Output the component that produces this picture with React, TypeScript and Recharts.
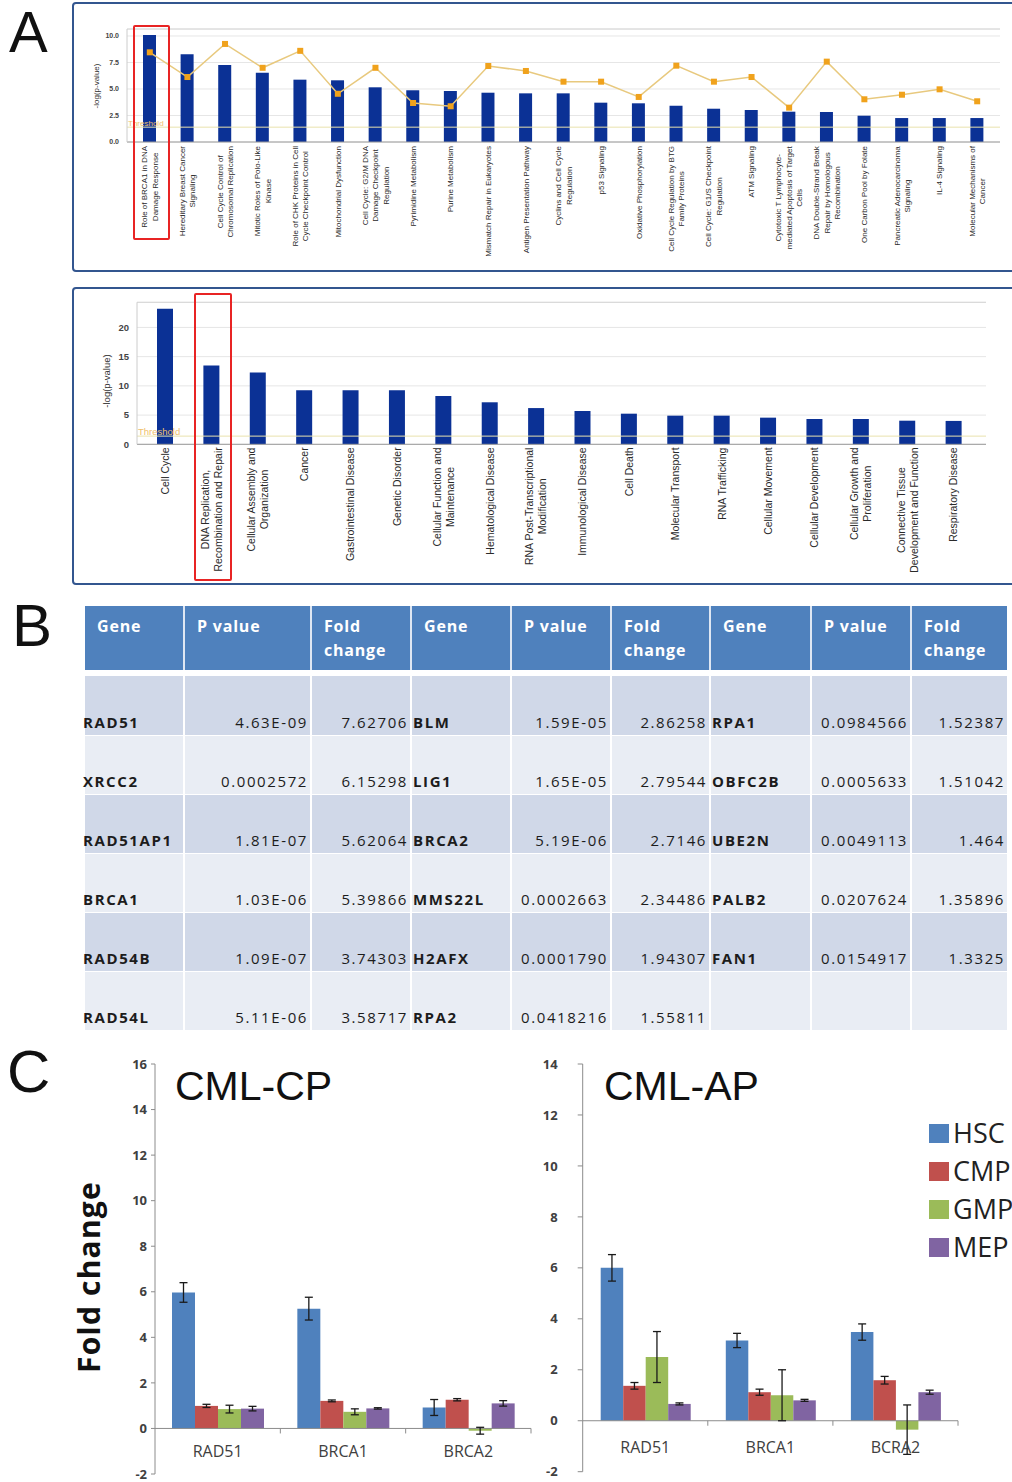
import React from 'react';
import {
  ComposedChart,
  Bar,
  Line,
  XAxis,
  YAxis,
  CartesianGrid,
  ReferenceLine,
  ErrorBar,
  Legend,
} from 'recharts';

const SANS = '"Liberation Sans", Arial, sans-serif';
const OPEN = '"Open Sans", "Liberation Sans", sans-serif';

// ---------------- Panel A (top): canonical pathways ----------------
const pathwayNames = [
  'Role of BRCA1 in DNA\nDamage Response',
  'Hereditary Breast Cancer\nSignaling',
  'Cell Cycle Control of\nChromosomal Replication',
  'Mitotic Roles of Polo-Like\nKinase',
  'Role of CHK Proteins in Cell\nCycle Checkpoint Control',
  'Mitochondrial Dysfunction',
  'Cell Cycle: G2/M DNA\nDamage Checkpoint\nRegulation',
  'Pyrimidine Metabolism',
  'Purine Metabolism',
  'Mismatch Repair in Eukaryotes',
  'Antigen Presentation Pathway',
  'Cyclins and Cell Cycle\nRegulation',
  'p53 Signaling',
  'Oxidative Phosphorylation',
  'Cell Cycle Regulation by BTG\nFamily Proteins',
  'Cell Cycle: G1/S Checkpoint\nRegulation',
  'ATM Signaling',
  'Cytotoxic T Lymphocyte-\nmediated Apoptosis of Target\nCells',
  'DNA Double-Strand Break\nRepair by Homologous\nRecombination',
  'One Carbon Pool by Folate',
  'Pancreatic Adenocarcinoma\nSignaling',
  'IL-4 Signaling',
  'Molecular Mechanisms of\nCancer',
];
const pathwayLogP = [10.1, 8.27, 7.26, 6.54, 5.88, 5.82, 5.16, 4.88, 4.81, 4.65, 4.59, 4.59, 3.71, 3.65, 3.42, 3.14, 3.02, 2.86, 2.83, 2.48, 2.26, 2.26, 2.26];
const pathwayRatio = [8.46, 6.13, 9.25, 7.0, 8.6, 4.55, 7.0, 3.68, 3.37, 7.17, 6.7, 5.69, 5.69, 4.25, 7.2, 5.69, 6.13, 3.24, 7.58, 4.03, 4.46, 4.97, 3.84];
const pathwayTicks = [0, 2.5, 5, 7.5, 10];
const pathwayMax = 10.66;
const pathwayThreshold = 1.4;

// ---------------- Panel A (bottom): functions ----------------
const functionNames = [
  'Cell Cycle',
  'DNA Replication,\nRecombination and Repair',
  'Cellular Assembly and\nOrganization',
  'Cancer',
  'Gastrointestinal Disease',
  'Genetic Disorder',
  'Cellular Function and\nMaintenance',
  'Hematological Disease',
  'RNA Post-Transcriptional\nModification',
  'Immunological Disease',
  'Cell Death',
  'Molecular Transport',
  'RNA Trafficking',
  'Cellular Movement',
  'Cellular Development',
  'Cellular Growth and\nProliferation',
  'Connective Tissue\nDevelopment and Function',
  'Respiratory Disease',
];
const functionLogP = [23.2, 13.5, 12.3, 9.25, 9.25, 9.25, 8.27, 7.19, 6.2, 5.7, 5.24, 4.9, 4.9, 4.56, 4.33, 4.33, 4.04, 4.0];
const functionTicks = [0, 5, 10, 15, 20];
const functionMax = 24.3;
const functionThreshold = 1.4;

// ---------------- Panel B: table ----------------
const tableHeaders = ['Gene', 'P value', 'Fold\nchange', 'Gene', 'P value', 'Fold\nchange', 'Gene', 'P value', 'Fold\nchange'];
const genesCol1 = ['RAD51', 'XRCC2', 'RAD51AP1', 'BRCA1', 'RAD54B', 'RAD54L'];
const pvalCol1 = ['4.63E-09', '0.0002572', '1.81E-07', '1.03E-06', '1.09E-07', '5.11E-06'];
const foldCol1 = ['7.62706', '6.15298', '5.62064', '5.39866', '3.74303', '3.58717'];
const genesCol2 = ['BLM', 'LIG1', 'BRCA2', 'MMS22L', 'H2AFX', 'RPA2'];
const pvalCol2 = ['1.59E-05', '1.65E-05', '5.19E-06', '0.0002663', '0.0001790', '0.0418216'];
const foldCol2 = ['2.86258', '2.79544', '2.7146', '2.34486', '1.94307', '1.55811'];
const genesCol3 = ['RPA1', 'OBFC2B', 'UBE2N', 'PALB2', 'FAN1', ''];
const pvalCol3 = ['0.0984566', '0.0005633', '0.0049113', '0.0207624', '0.0154917', ''];
const foldCol3 = ['1.52387', '1.51042', '1.464', '1.35896', '1.3325', ''];

// ---------------- Panel C: qPCR fold change ----------------
const cellTypes = ['HSC', 'CMP', 'GMP', 'MEP'];
const cellColors = ['#4f81bd', '#c0504d', '#9bbb59', '#8064a2'];

const cpGenes = ['RAD51', 'BRCA1', 'BRCA2'];
const cpHSC = [5.97, 5.26, 0.92];
const cpHSCerr = [0.43, 0.5, 0.35];
const cpCMP = [0.99, 1.21, 1.26];
const cpCMPerr = [0.07, 0.04, 0.05];
const cpGMP = [0.85, 0.73, -0.1];
const cpGMPerr = [0.17, 0.13, 0.15];
const cpMEP = [0.87, 0.88, 1.1];
const cpMEPerr = [0.1, 0.03, 0.12];
const cpTicks = [-2, 0, 2, 4, 6, 8, 10, 12, 14, 16];

const apGenes = ['RAD51', 'BRCA1', 'BCRA2'];
const apHSC = [6.0, 3.15, 3.48];
const apHSCerr = [0.52, 0.28, 0.32];
const apCMP = [1.37, 1.12, 1.59];
const apCMPerr = [0.13, 0.12, 0.15];
const apGMP = [2.5, 1.0, -0.35];
const apGMPerr = [1.0, 1.0, 0.97];
const apMEP = [0.66, 0.8, 1.12];
const apMEPerr = [0.04, 0.04, 0.08];
const apTicks = [-2, 0, 2, 4, 6, 8, 10, 12, 14];

// ---------------- derived tables ----------------
const pathwayData = pathwayNames.map((name, i) => ({ name, logp: pathwayLogP[i], ratio: pathwayRatio[i] }));
const functionData = functionNames.map((name, i) => ({ name, logp: functionLogP[i] }));

const buildFold = (genes: string[], s: number[][], e: number[][]) =>
  genes.map((gene, i) => ({
    gene,
    HSC: s[0][i], CMP: s[1][i], GMP: s[2][i], MEP: s[3][i],
    HSCe: e[0][i], CMPe: e[1][i], GMPe: e[2][i], MEPe: e[3][i],
  }));
const cpData = buildFold(cpGenes, [cpHSC, cpCMP, cpGMP, cpMEP], [cpHSCerr, cpCMPerr, cpGMPerr, cpMEPerr]);
const apData = buildFold(apGenes, [apHSC, apCMP, apGMP, apMEP], [apHSCerr, apCMPerr, apGMPerr, apMEPerr]);

const tableRows = genesCol1.map((_, r) => [
  genesCol1[r], pvalCol1[r], foldCol1[r],
  genesCol2[r], pvalCol2[r], foldCol2[r],
  genesCol3[r], pvalCol3[r], foldCol3[r],
]);
const colWidths = [98, 127, 100, 100, 100, 99, 101, 100, 97];

// ---------------- helpers ----------------
let measureCtx: CanvasRenderingContext2D | null = null;
function measure(text: string, fs: number): number {
  try {
    if (!measureCtx) measureCtx = document.createElement('canvas').getContext('2d');
    if (measureCtx) {
      measureCtx.font = `${fs}px "Liberation Sans", Arial, sans-serif`;
      return measureCtx.measureText(text).width;
    }
  } catch (e) {
    /* ignore */
  }
  return text.length * fs * 0.5;
}

function RotatedTick(props: any) {
  const { x, y, payload, fs, lh, gap } = props;
  const lines = String(payload.value).split('\n');
  const w = Math.max(...lines.map((l) => measure(l, fs)));
  const n = lines.length;
  return (
    <g transform={`translate(${x},${y + gap + w / 2}) rotate(-90)`}>
      <text textAnchor="middle" fontSize={fs} fontFamily={SANS} fill="#2a2a2a">
        {lines.map((l, i) => (
          <tspan key={i} x={0} y={(i - (n - 1) / 2) * lh + fs * 0.35}>
            {l}
          </tspan>
        ))}
      </text>
    </g>
  );
}

function GeneTick(props: any) {
  const { x, payload, labelY, zeroY, half } = props;
  return (
    <g>
      <text x={x} y={labelY} textAnchor="middle" fontSize={16} fontWeight={500} fontFamily={OPEN} fill="#404040">
        {payload.value}
      </text>
      <line x1={x + half} x2={x + half} y1={zeroY} y2={zeroY + 5} stroke="#8c8c8c" />
    </g>
  );
}

const SquareDot = (p: any) => (
  <rect key={`sq${p.index}`} x={p.cx - 3} y={p.cy - 3} width={6} height={6} fill="#f0a21c" />
);

const LegendList = (props: any) => {
  const items = [...(props.payload || [])].sort(
    (a: any, b: any) => cellTypes.indexOf(String(a.value)) - cellTypes.indexOf(String(b.value)),
  );
  return (
    <div>
      {items.map((e: any) => (
        <div key={e.value} style={{ display: 'flex', alignItems: 'center', height: 38, whiteSpace: 'nowrap' }}>
          <span style={{ width: 20, height: 19, background: e.color, marginRight: 4, display: 'inline-block' }} />
          <span style={{ fontFamily: OPEN, fontSize: 27, color: '#222', lineHeight: '38px' }}>{e.value}</span>
        </div>
      ))}
    </div>
  );
};

// layout constants for panel C
const CP_W = 540, CP_H = 442, CP_M = { top: 24, right: 9, bottom: 7, left: 115 }, CP_YW = 40, CP_XH = 1;
const AP_W = 492, AP_H = 442, AP_M = { top: 24, right: 54, bottom: 9.3, left: 12.7 }, AP_YW = 50, AP_XH = 1;
const cpPlotH = CP_H - CP_M.top - CP_M.bottom - CP_XH;
const apPlotH = AP_H - AP_M.top - AP_M.bottom - AP_XH;
const cpZeroY = CP_M.top + (cpPlotH * cpTicks[cpTicks.length - 1]) / (cpTicks[cpTicks.length - 1] - cpTicks[0]);
const apZeroY = AP_M.top + (apPlotH * apTicks[apTicks.length - 1]) / (apTicks[apTicks.length - 1] - apTicks[0]);
const cpHalf = (CP_W - CP_M.left - CP_M.right - CP_YW) / cpGenes.length / 2;
const apHalf = (AP_W - AP_M.left - AP_M.right - AP_YW) / apGenes.length / 2;

export default function App() {
  return (
    <div
      style={{
        position: 'absolute',
        left: 0,
        top: 0,
        width: 1012,
        height: 1482,
        overflow: 'hidden',
        background: '#ffffff',
        fontFamily: SANS,
      }}
    >
      {/* Panel A frames */}
      <div style={{ position: 'absolute', left: 72, top: 2, width: 960, height: 266, border: '2.5px solid #33568f', borderRadius: 4 }} />
      <div style={{ position: 'absolute', left: 72, top: 287, width: 960, height: 294, border: '2.5px solid #33568f', borderRadius: 4 }} />

      {/* Panel A top chart */}
      <div style={{ position: 'absolute', left: 0, top: 0 }}>
        <ComposedChart width={1012} height={272} data={pathwayData} margin={{ top: 29, right: 12, bottom: 5, left: 97 }}>
          <CartesianGrid vertical={false} stroke="#e6e6e6" />
          <XAxis
            dataKey="name"
            interval={0}
            height={125}
            tickSize={0}
            tickMargin={0}
            tickLine={false}
            axisLine={{ stroke: '#9a9a9a' }}
            padding={{ left: 4, right: 4 }}
            tick={(p: any) => <RotatedTick {...p} fs={8} lh={10.5} gap={4} />}
          />
          <YAxis
            type="number"
            domain={[0, pathwayMax]}
            ticks={pathwayTicks}
            interval={0}
            width={30}
            tickSize={0}
            tickMargin={8}
            tickLine={false}
            axisLine={{ stroke: '#cccccc' }}
            tickFormatter={(v: any) => Number(v).toFixed(1)}
            tick={{ fontSize: 7, fill: '#444', fontWeight: 'bold', fontFamily: SANS }}
          />
          <ReferenceLine y={pathwayMax} stroke="#d6d6d6" />
          <ReferenceLine
            y={pathwayThreshold}
            stroke="#e9e2ad"
            label={{ value: 'Threshold', position: 'insideBottomLeft', fill: '#efc16e', fontSize: 8, offset: 1 }}
          />
          <Bar dataKey="logp" fill="#0b3195" barSize={13} isAnimationActive={false} />
          <Line dataKey="ratio" stroke="#e8c97e" strokeWidth={1.5} dot={SquareDot} isAnimationActive={false} />
        </ComposedChart>
      </div>

      {/* Panel A bottom chart */}
      <div style={{ position: 'absolute', left: 0, top: 288 }}>
        <ComposedChart width={1012} height={297} data={functionData} margin={{ top: 14.3, right: 26, bottom: 5, left: 107 }}>
          <CartesianGrid vertical={false} stroke="#e6e6e6" />
          <XAxis
            dataKey="name"
            interval={0}
            height={135.7}
            tickSize={0}
            tickMargin={0}
            tickLine={false}
            axisLine={{ stroke: '#9a9a9a' }}
            padding={{ left: 5, right: 9 }}
            tick={(p: any) => <RotatedTick {...p} fs={10.5} lh={13} gap={3} />}
          />
          <YAxis
            type="number"
            domain={[0, functionMax]}
            ticks={functionTicks}
            interval={0}
            width={30}
            tickSize={0}
            tickMargin={8}
            tickLine={false}
            axisLine={{ stroke: '#cccccc' }}
            tick={{ fontSize: 9.5, fill: '#444', fontWeight: 'bold', fontFamily: SANS }}
          />
          <ReferenceLine y={functionMax} stroke="#d6d6d6" />
          <ReferenceLine
            y={functionThreshold}
            stroke="#e9e2ad"
            label={{ value: 'Threshold', position: 'insideBottomLeft', fill: '#efc16e', fontSize: 9.5, offset: 1 }}
          />
          <Bar dataKey="logp" fill="#0b3195" barSize={16} isAnimationActive={false} />
        </ComposedChart>
      </div>

      {/* Panel B table */}
      <div style={{ position: 'absolute', left: 85, top: 606, width: 922, fontFamily: OPEN }}>
        <div style={{ display: 'flex', height: 64, background: '#4f81bd' }}>
          {tableHeaders.map((h, j) => (
            <div
              key={j}
              style={{
                width: colWidths[j],
                boxSizing: 'border-box',
                borderLeft: j === 0 ? 'none' : '2px solid #dfe7f3',
                paddingLeft: 12,
                paddingTop: 8,
                color: '#ffffff',
                fontWeight: 700,
                fontSize: 16,
                letterSpacing: 0.8,
                lineHeight: '24px',
                whiteSpace: 'pre-line',
              }}
            >
              {h}
            </div>
          ))}
        </div>
        <div style={{ height: 6, background: '#ffffff' }} />
        {tableRows.map((row, r) => (
          <div
            key={r}
            style={{
              display: 'flex',
              height: 59,
              boxSizing: 'border-box',
              borderTop: r === 0 ? 'none' : '1px solid #ffffff',
              background: r % 2 === 0 ? '#d0d8e8' : '#e9edf4',
            }}
          >
            {row.map((v, j) => (
              <div
                key={j}
                style={{
                  width: colWidths[j],
                  boxSizing: 'border-box',
                  borderLeft: j === 0 ? 'none' : '2px solid #ffffff',
                  display: 'flex',
                  alignItems: 'flex-end',
                  justifyContent: j % 3 === 0 ? 'flex-start' : 'flex-end',
                  paddingLeft: j === 0 ? 0 : 1,
                  paddingRight: j % 3 === 0 ? 0 : 2,
                  paddingBottom: 3,
                  fontSize: 15,
                  lineHeight: '20px',
                  letterSpacing: 1.6,
                  fontWeight: j % 3 === 0 ? 700 : 400,
                  color: '#1c1c1c',
                  whiteSpace: 'nowrap',
                  overflow: 'visible',
                }}
              >
                <span style={{ marginLeft: j === 0 ? -2 : 0 }}>{v}</span>
              </div>
            ))}
          </div>
        ))}
      </div>

      {/* Panel C left: CML-CP */}
      <div style={{ position: 'absolute', left: 0, top: 1040 }}>
        <ComposedChart width={CP_W} height={CP_H} data={cpData} margin={CP_M} barGap={0}>
          <XAxis
            dataKey="gene"
            height={CP_XH}
            interval={0}
            axisLine={false}
            tickLine={false}
            tickSize={0}
            tickMargin={0}
            tick={(p: any) => <GeneTick {...p} labelY={cpZeroY + 29} zeroY={cpZeroY} half={cpHalf} />}
          />
          <YAxis
            type="number"
            domain={[cpTicks[0], cpTicks[cpTicks.length - 1]]}
            ticks={cpTicks}
            interval={0}
            width={CP_YW}
            axisLine={{ stroke: '#8c8c8c' }}
            tickLine={{ stroke: '#8c8c8c' }}
            tickSize={4}
            tickMargin={4}
            tick={{ fontSize: 13, fontWeight: 700, fill: '#404040', fontFamily: OPEN }}
          />
          <ReferenceLine y={0} stroke="#8c8c8c" />
          {cellTypes.map((c, i) => (
            <Bar key={c} dataKey={c} fill={cellColors[i]} barSize={23} isAnimationActive={false}>
              <ErrorBar dataKey={`${c}e`} width={4} stroke="#1a1a1a" strokeWidth={1.3} />
            </Bar>
          ))}
        </ComposedChart>
      </div>

      {/* Panel C right: CML-AP */}
      <div style={{ position: 'absolute', left: 520, top: 1040 }}>
        <ComposedChart width={AP_W} height={AP_H} data={apData} margin={AP_M} barGap={0}>
          <XAxis
            dataKey="gene"
            height={AP_XH}
            interval={0}
            axisLine={false}
            tickLine={false}
            tickSize={0}
            tickMargin={0}
            tick={(p: any) => <GeneTick {...p} labelY={apZeroY + 32} zeroY={apZeroY} half={apHalf} />}
          />
          <YAxis
            type="number"
            domain={[apTicks[0], apTicks[apTicks.length - 1]]}
            ticks={apTicks}
            interval={0}
            width={AP_YW}
            axisLine={{ stroke: '#8c8c8c' }}
            tickLine={{ stroke: '#8c8c8c' }}
            tickSize={5}
            tickMargin={20}
            tick={{ fontSize: 13, fontWeight: 700, fill: '#404040', fontFamily: OPEN }}
          />
          <ReferenceLine y={0} stroke="#8c8c8c" />
          {cellTypes.map((c, i) => (
            <Bar key={c} dataKey={c} fill={cellColors[i]} barSize={22.5} isAnimationActive={false}>
              <ErrorBar dataKey={`${c}e`} width={4} stroke="#1a1a1a" strokeWidth={1.3} />
            </Bar>
          ))}
          <Legend
            layout="vertical"
            verticalAlign="middle"
            align="center"
            itemSorter={null as any}
            wrapperStyle={{ left: 409, top: 74, width: 140, height: 160 }}
            content={LegendList}
          />
        </ComposedChart>
      </div>

      {/* Overlay: panel letters, titles, highlight boxes, axis titles */}
      <svg width={1012} height={1482} style={{ position: 'absolute', left: 0, top: 0, pointerEvents: 'none' }}>
        <text x={9} y={52} fontSize={58} fontFamily={SANS} fill="#111">A</text>
        <text x={12} y={646} fontSize={60} fontFamily={SANS} fill="#111">B</text>
        <text x={7} y={1092} fontSize={60} fontFamily={SANS} fill="#111">C</text>

        <rect x={134} y={26} width={35} height={213} fill="none" stroke="#e82424" strokeWidth={2} rx={1} />
        <rect x={195} y={294} width={36} height={286} fill="none" stroke="#e82424" strokeWidth={2} rx={1} />

        <text transform="translate(99,86) rotate(-90)" textAnchor="middle" fontSize={8} fontFamily={SANS} fill="#333">
          -log(p-value)
        </text>
        <text transform="translate(110,381) rotate(-90)" textAnchor="middle" fontSize={9.5} fontFamily={SANS} fill="#333">
          -log(p-value)
        </text>

        <text x={175} y={1100} fontSize={41} fontFamily={SANS} fill="#111">CML-CP</text>
        <text x={604} y={1100} fontSize={41} fontFamily={SANS} fill="#111">CML-AP</text>
        <text
          transform="translate(100,1277) rotate(-90)"
          textAnchor="middle"
          fontSize={30}
          fontWeight={700}
          letterSpacing={1.2}
          fontFamily={OPEN}
          fill="#111"
        >
          Fold change
        </text>
      </svg>
    </div>
  );
}
